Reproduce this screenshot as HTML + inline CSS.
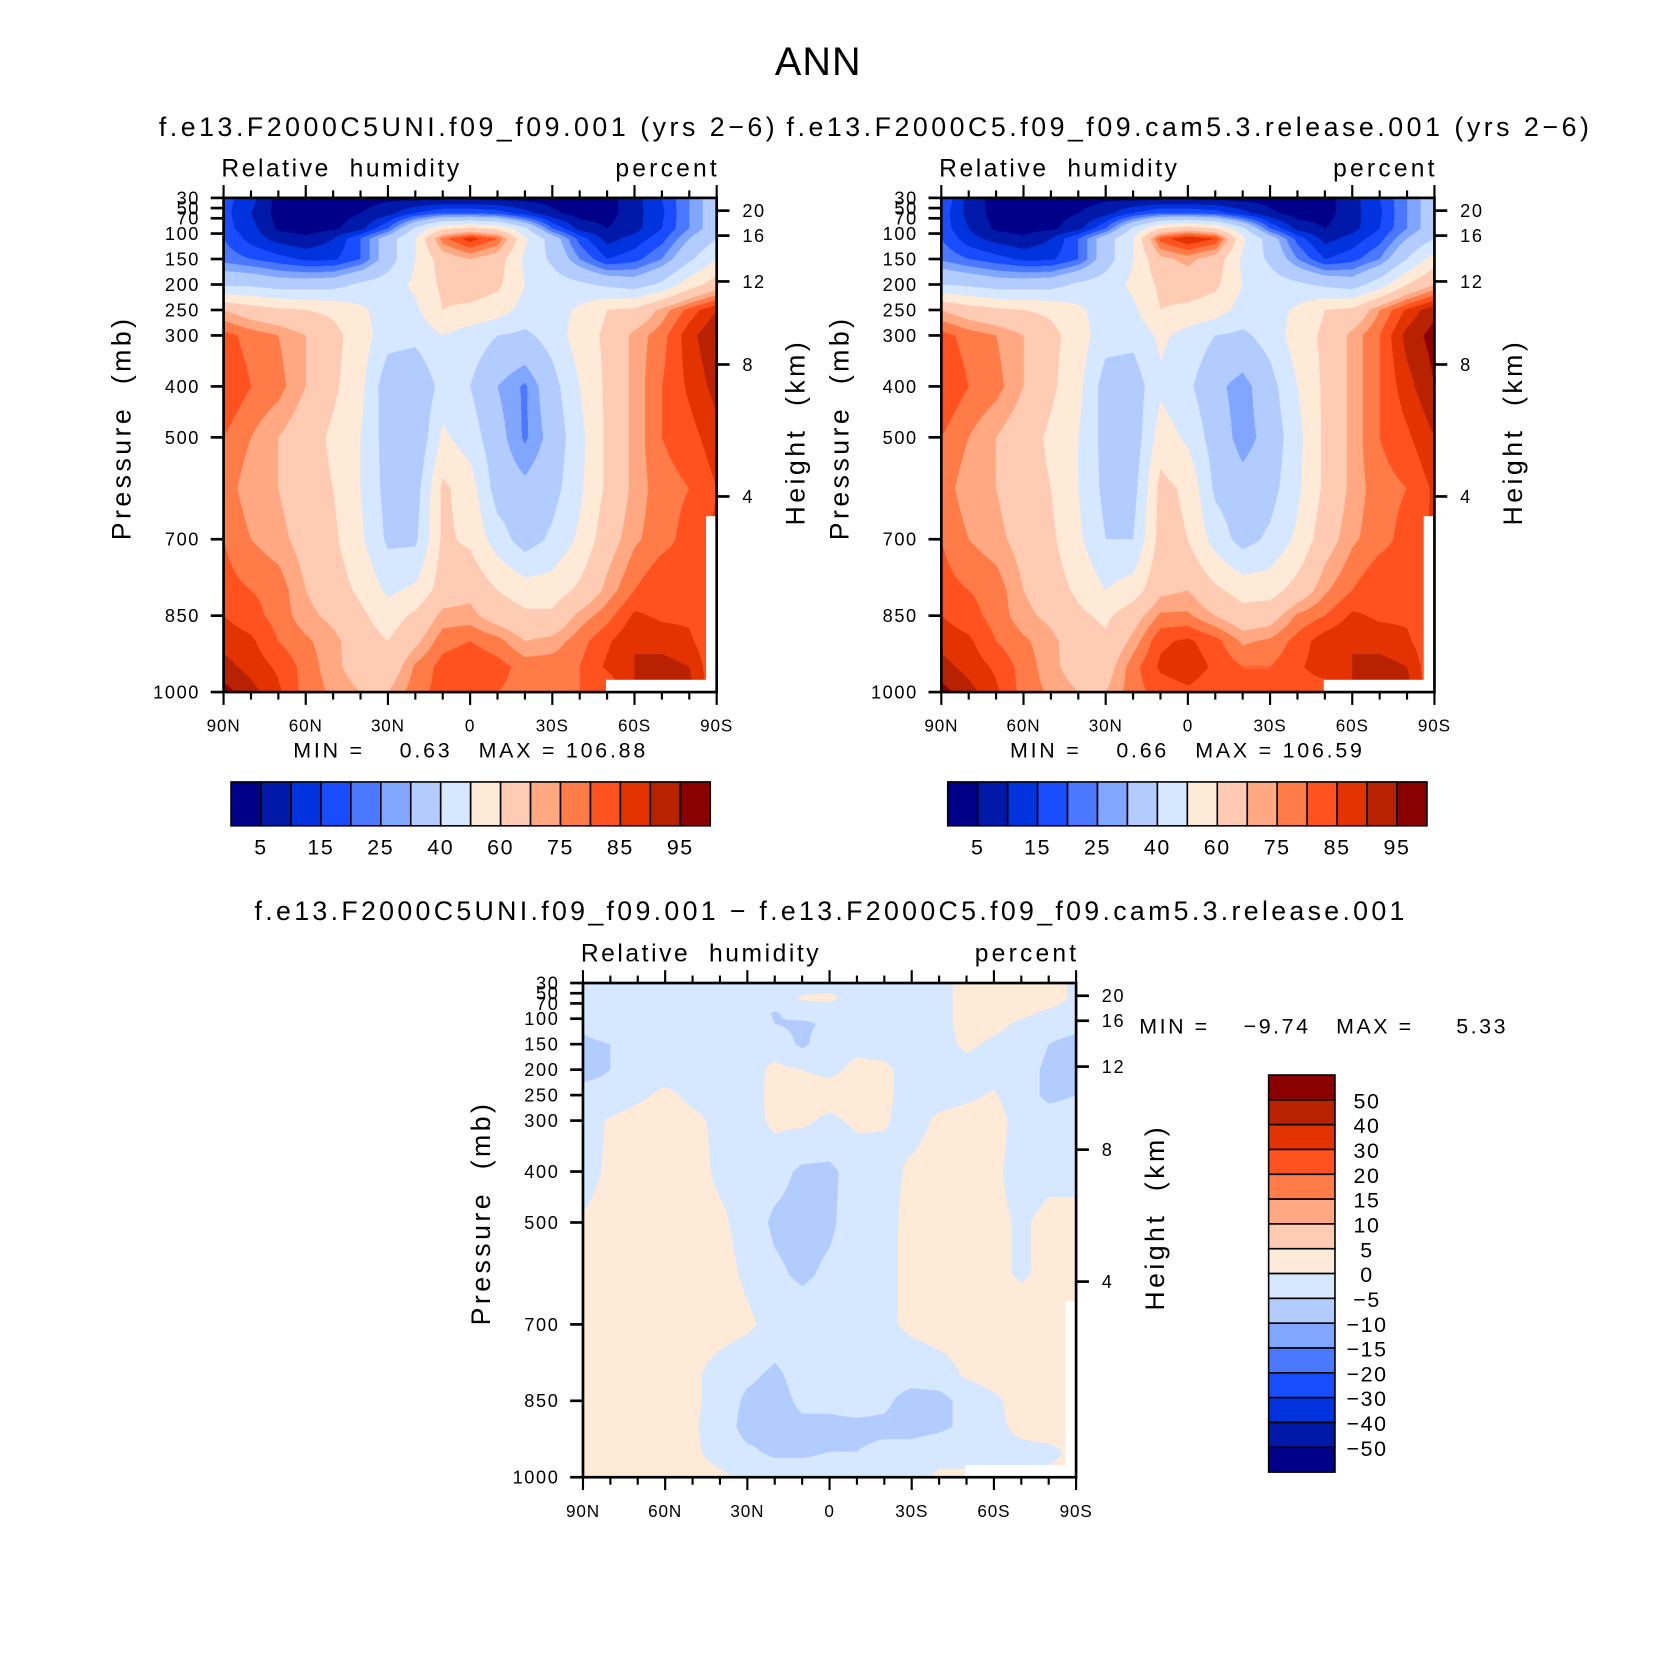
<!DOCTYPE html>
<html><head><meta charset="utf-8">
<style>
html,body{margin:0;padding:0;background:#fff;overflow:hidden}
#root{position:absolute;left:0;top:0;width:1550px;height:1571px;transform:scale(1.06968);transform-origin:0 0}
canvas{position:absolute}
svg{position:absolute;left:0;top:0}
text{font-family:"Liberation Sans",sans-serif;fill:#000;white-space:pre}
</style></head>
<body>
<div id="root">
<canvas id="c1" style="left:209px;top:185px;width:461px;height:462px" width="922" height="924"></canvas>
<canvas id="c2" style="left:880px;top:185px;width:461px;height:462px" width="922" height="924"></canvas>
<canvas id="c3" style="left:545px;top:919px;width:461px;height:462px" width="922" height="924"></canvas>
<svg id="ov" width="1550" height="1571" viewBox="0 0 1550 1571">
<text x="765" y="70" font-size="37" text-anchor="middle" letter-spacing="1">ANN</text>
<text x="438" y="127" font-size="25" text-anchor="middle" letter-spacing="3.3">f.e13.F2000C5UNI.f09_f09.001 (yrs 2−6)</text>
<text x="1112" y="127" font-size="25" text-anchor="middle" letter-spacing="3.3">f.e13.F2000C5.f09_f09.cam5.3.release.001 (yrs 2−6)</text>
<text x="777" y="860" font-size="25" text-anchor="middle" letter-spacing="3.1">f.e13.F2000C5UNI.f09_f09.001 − f.e13.F2000C5.f09_f09.cam5.3.release.001</text>
<g id="axes"></g>
</svg>
</div>
<script>
// ---- data ----
const lats=[90,80,70,60,50,40,30,20,10,0,-10,-20,-30,-40,-50,-60,-70,-80,-90];
const pres=[30,60,90,110,150,200,250,300,400,500,600,700,800,850,900,950,1000];
const rhLevels=[5,10,15,20,25,30,40,50,60,70,75,80,85,90,95];
const rhLabels=[5,15,25,40,60,75,85,95];
const diffLevels=[-50,-40,-30,-20,-15,-10,-5,0,5,10,15,20,30,40,50];
const diffLabels=[50,40,30,20,15,10,5,0,-5,-10,-15,-20,-30,-40,-50];
const latTicks=[90,60,30,0,-30,-60,-90];
const latTickLabels=["90N","60N","30N","0","30S","60S","90S"];
const presTicks=[30,50,70,100,150,200,250,300,400,500,700,850,1000];
const heightTicks=[20,16,12,8,4];
const heightTickPres=[55,104,194,357,616];
const rhModel=[
[17,12,3,2,2,3,4,3,3,3,3,3,3,3,3,8,15,25,35],
[17,10,3,3,3,5,8,15,20,20,18,12,6,3,3,8,14,25,35],
[17,12,4,3,4,8,20,42,58,62,58,42,20,8,5,8,15,25,35],
[20,13,8,6,10,20,35,50,78,88,80,52,35,18,8,12,18,30,40],
[23,20,17,14,14,20,35,50,65,70,65,48,38,25,15,18,25,38,50],
[38,38,35,35,36,42,45,52,62,65,62,50,45,42,38,35,42,55,65],
[70,65,62,60,58,52,45,48,60,58,55,46,45,52,60,62,72,82,90],
[82,78,75,70,63,55,44,43,50,45,40,38,44,55,62,72,78,88,95],
[85,80,77,70,62,53,33,30,44,40,30,24,36,50,62,72,80,86,92],
[80,75,70,65,58,50,35,30,52,45,33,24,33,47,62,72,80,83,88],
[78,72,70,65,60,50,36,35,62,55,35,32,36,48,62,72,78,80,85],
[80,75,72,67,62,52,38,38,62,58,45,35,42,52,66,74,78,82,86],
[82,80,78,70,65,58,48,52,65,68,60,55,55,62,72,80,85,83,80],
[85,82,78,72,68,62,55,62,72,72,66,62,62,72,78,86,84,84,80],
[88,86,80,76,72,65,60,68,78,80,77,70,72,78,84,90,88,86,80],
[92,88,84,78,72,66,64,76,82,84,82,78,78,80,86,90,92,90,80],
[97,92,86,78,74,70,70,78,82,82,80,78,78,80,80,90,92,92,80]];
const rhControl=[
[20,8,3,2,2,3,4,3,3,3,3,3,3,3,3,8,15,25,35],
[18,8,3,3,3,5,8,15,20,20,18,12,6,3,3,8,14,25,35],
[18,10,4,3,4,8,20,42,60,65,60,42,20,8,5,8,15,25,35],
[20,12,8,6,10,20,35,50,82,90,85,52,35,18,8,12,18,30,40],
[24,20,17,14,14,20,35,50,68,72,66,48,38,25,15,18,25,40,55],
[40,38,35,35,36,42,45,52,62,65,62,50,45,42,38,35,45,60,70],
[70,65,62,60,58,52,45,48,60,58,55,46,45,52,60,62,75,86,94],
[82,78,75,70,63,55,44,43,52,46,40,38,44,55,62,72,80,92,97],
[85,80,77,70,62,53,35,34,48,42,32,27,36,50,62,72,80,88,95],
[80,75,70,65,58,50,36,33,55,48,35,27,33,47,62,72,80,84,90],
[78,72,70,65,60,50,37,36,63,58,38,33,36,48,62,72,78,80,86],
[80,75,72,67,62,52,40,40,64,60,46,36,42,52,66,74,78,82,86],
[82,80,78,70,65,58,50,55,68,70,62,56,56,64,74,80,85,83,80],
[85,82,78,72,68,62,58,66,76,76,70,64,66,76,80,86,84,84,80],
[88,86,80,76,72,65,62,72,84,86,82,74,76,82,88,90,88,86,80],
[92,88,84,78,72,66,66,78,86,88,84,80,80,84,88,90,92,90,80],
[97,92,86,78,74,70,70,78,82,84,82,80,80,82,82,90,92,92,80]];
const rhDiff=[
[-2,-2,-2,-2,-2,-2,-2,-2,-2,-2,-2,-2,-2,-2,2,2,2,2,-1],
[-2,-2,-2,-2,-2,-2,-2,-2,0.5,1,-2,-2,-2,-2,2,2,2,2,-1],
[-2,-2,-2,-2,-2,-2,-2,-5.5,-3,-3,-3,-2,-2,-2,2,2,1,-1,-2],
[-4,-2,-2,-2,-2,-2,-2,-5,-6,-4,-2,-2,-2,-2,2,1.5,-1,-2,-3],
[-6,-5,-2,-2,-2,-2,-2,-2,-6,-2,-1,-2,-2,-2,1,-1,-2,-5,-7],
[-7,-5,-2,-2,-2,-2,-2,1,0,-1,1,1,-2,-2,-2,-2,-3,-6,-7],
[-3,-3,-1,1,-1,-2,-3,2,2,2,2,1,-2,-2,-1,0.5,-3,-6,-5],
[-2,0.5,2,2,1,-1,-2,1,1,-1,1,0.5,-2,1,2,2,-2,-3,-3],
[-2,1,2,2,2,-1,-2,-3,-6,-6,-3,-2,1,2,2,1,-2,-1,-1],
[0.5,2,2,2,2,1,-2,-6,-7,-6,-2,-2,2,2,2,1,-0.5,1,1],
[1,2,2,2,2,2,-1,-4,-6,-4,-2,-1,1,2,2,1,-0.5,1,1],
[1,2,2,2,2,2,1,-2,-2,-2,-2,-1,1,2,2,2,2,2,2],
[2,2,2,2,1,-2,-4,-6,-3,-3,-3,-3,-3,-2,0.5,2,2,2,2],
[2,2,2,2,1,-2,-6,-7,-4,-4,-3,-4,-7,-7,-3,-1,2,2,2],
[2,2,2,2,0.5,-2,-7,-7,-6,-6,-6,-6,-7,-6,-4,-1,1,2,2],
[2,2,2,2,1,-2,-4,-6,-6,-5,-5,-4,-3,-2,-2,-1,-1,-1,1],
[2,2,2,2,2,1,-1,-2,-2,-2,-2,-2,-2,1,1,1,-1,1,1]];
const palette=["#000088","#0019a8","#0033dd","#1a4cff","#4a78ff","#80a6ff","#b3ccff","#d6e8ff","#ffead8","#ffcbb2","#ffa882","#ff7b47","#ff521e","#e33300","#b82200","#8b0000"];

// ---- rendering ----
function valueAt(grid,u,p){
  let i=Math.min(Math.floor(u),lats.length-2); const fu=u-i;
  let j=0; while(j<pres.length-2 && p>pres[j+1]) j++;
  const fp=(p-pres[j])/(pres[j+1]-pres[j]);
  const a=grid[j][i]*(1-fu)+grid[j][i+1]*fu;
  const b=grid[j+1][i]*(1-fu)+grid[j+1][i+1]*fu;
  return a*(1-fp)+b*fp;
}
function hexRgb(h){return [parseInt(h.substr(1,2),16),parseInt(h.substr(3,2),16),parseInt(h.substr(5,2),16)];}
const pal=palette.map(hexRgb);
function drawField(id,grid,levels){
  const c=document.getElementById(id),ctx=c.getContext('2d'),W=c.width,H=c.height;
  const img=ctx.createImageData(W,H);
  for(let y=0;y<H;y++){
    const p=30+(y+0.5)/H*970;
    for(let x=0;x<W;x++){
      const u=(x+0.5)/W*(lats.length-1);
      const k=(y*W+x)*4;
      let col;
      if((u>17.6&&p>655)||(u>13.95&&p>976)) col=[255,255,255];
      else{const v=valueAt(grid,u,p);let n=0;while(n<levels.length&&v>=levels[n])n++;col=pal[n];}
      img.data[k]=col[0];img.data[k+1]=col[1];img.data[k+2]=col[2];img.data[k+3]=255;
    }
  }
  ctx.putImageData(img,0,0);
}
drawField('c1',rhModel,rhLevels);
drawField('c2',rhControl,rhLevels);
drawField('c3',rhDiff,diffLevels);

const NS="http://www.w3.org/2000/svg";
const axes=document.getElementById('axes');
function el(tag,attrs,parent){const e=document.createElementNS(NS,tag);for(const k in attrs)e.setAttribute(k,attrs[k]);(parent||axes).appendChild(e);return e;}
function txt(x,y,s,size,anchor,parent,ls){const t=el('text',{x:x,y:y,'font-size':size,'text-anchor':anchor||'start','letter-spacing':ls||0},parent);t.textContent=s;return t;}

function drawAxes(L,T,name){
  const W=461,H=462;
  const g=el('g',{});
  
  
  const xOf=lat=>L+(90-lat)/180*W;
  const yOf=p=>T+(p-30)/970*H;
  el('rect',{x:L,y:T,width:W,height:H,fill:'none',stroke:'#000','stroke-width':2.5},g);
  for(let lat=90;lat>=-90;lat-=10){
    const major=lat%30===0, len=major?12:7, x=xOf(lat);
    el('line',{x1:x,y1:T+H,x2:x,y2:T+H+len,stroke:'#000','stroke-width':2},g);
    el('line',{x1:x,y1:T,x2:x,y2:T-len,stroke:'#000','stroke-width':2},g);
  }
  latTicks.forEach((lat,i)=>{
    const t=txt(xOf(lat),T+H+37,latTickLabels[i],16,'middle',g,0.8);
    
    
  });
  presTicks.forEach(p=>{
    const y=yOf(p);
    el('line',{x1:L,y1:y,x2:L-12,y2:y,stroke:'#000','stroke-width':2.5},g);
    const t=txt(L-22,y+6,String(p),17,'end',g,1.5);
    
    
  });
  heightTicks.forEach((h,i)=>{
    const y=yOf(heightTickPres[i]);
    el('line',{x1:L+W,y1:y,x2:L+W+12,y2:y,stroke:'#000','stroke-width':2.5},g);
    const t=txt(L+W+24,y+6,String(h),17,'start',g,1.5);
    
    
  });
  const s1=txt(L-2,T-20,'Relative  humidity',23,'start',g,2.4);
  
  
  const s2=txt(L+W+3,T-20,'percent',23,'end',g,3);
  
  
  const yl=txt(0,0,'Pressure  (mb)',25,'middle',g,3.2);
  yl.setAttribute('transform','translate('+(L-87)+','+(T+H/2-16)+') rotate(-90)');
  
  
  const yr=txt(0,0,'Height  (km)',25,'middle',g,3.2);
  yr.setAttribute('transform','translate('+(L+W+82)+','+(T+H/2-12)+') rotate(-90)');
  
  
}
drawAxes(209,185,'model');
drawAxes(880,185,'control');
drawAxes(545,919,'difference');

function hbar(L,T,name){
  const g=el('g',{});
  
  
  const bw=28;
  palette.forEach((c,i)=>{const r=el('rect',{x:L+i*bw,y:T,width:bw,height:41,fill:c,stroke:'#000','stroke-width':1.5},g);
    
    });
  rhLabels.forEach((v,i)=>{const t=txt(L+(2*i+1)*bw,T+68,String(v),20,'middle',g,1.5);
    
    });
}
hbar(216,731,'colorbar-model');
hbar(886,731,'colorbar-control');
(function(){
  const g=el('g',{});
  
  
  const L=1186,T=1005,bh=23.2;
  palette.slice().reverse().forEach((c,i)=>{const r=el('rect',{x:L,y:T+i*bh,width:62,height:bh,fill:c,stroke:'#000','stroke-width':1.5},g);
    
    });
  diffLabels.forEach((v,i)=>{const t=txt(1278,T+(i+1)*bh+8,String(v).replace('-','−'),20,'middle',g,1.5);
    
    });
})();
const mm=[[440,708,'MIN =    0.63   MAX = 106.88'],[1110,708,'MIN =    0.66   MAX = 106.59']];
mm.forEach(m=>{const t=txt(m[0],m[1],m[2],20,'middle',null,2.6);
  
  });
const md=txt(1065,966,'MIN =    −9.74   MAX =     5.33',20,'start',null,2.4);


</script>
</body></html>
